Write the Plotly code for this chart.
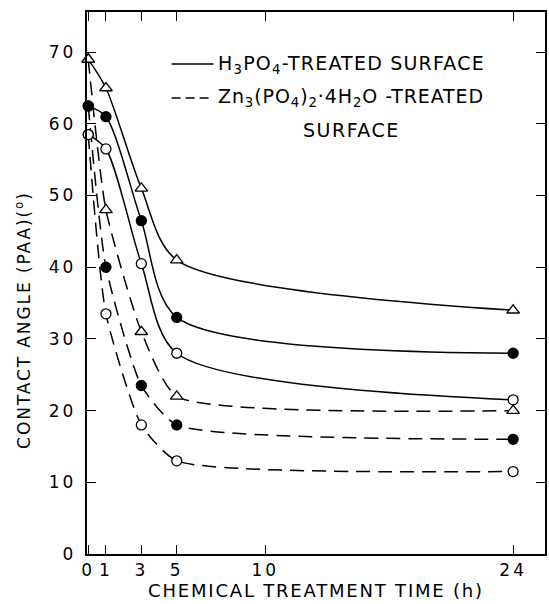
import plotly.graph_objects as go

hours = [0, 1, 3, 5, 24]

# H3PO4-treated (solid)
h3_tri = [69, 65, 51, 41, 34]
h3_fill = [62.5, 61, 46.5, 33, 28]
h3_open = [58.5, 56.5, 40.5, 28, 21.5]

# Zn3(PO4)2.4H2O-treated (dashed)
zn_tri = [69, 48, 31, 22, 20]
zn_fill = [62.5, 40, 23.5, 18, 16]
zn_open = [58.5, 33.5, 18, 13, 11.5]

x_ticks = [0, 1, 3, 5, 10, 24]
y_ticks = [0, 10, 20, 30, 40, 50, 60, 70]

FONT = "DejaVu Sans"
fig = go.Figure()


def sp(text, ls):
    return f'<span style="letter-spacing:{ls}px">{text}</span>'


def add(y, dash, sym, fill, smooth):
    fig.add_trace(go.Scatter(
        x=hours, y=y, mode="lines+markers",
        line=dict(color="black", width=1.5, dash=dash, shape="spline", smoothing=smooth),
        marker=dict(symbol=sym, size=11 if sym.startswith("tri") else 10,
                    color=fill, line=dict(color="black", width=1.3)),
        cliponaxis=False, showlegend=False))


add(h3_tri, "solid", "triangle-up", "white", 0.8)
add(h3_fill, "solid", "circle", "black", 0.8)
add(h3_open, "solid", "circle", "white", 0.8)
add(zn_tri, "14px,8px", "triangle-up", "white", 0.55)
add(zn_fill, "14px,8px", "circle", "black", 0.55)
add(zn_open, "14px,8px", "circle", "white", 0.55)

axis_common = dict(showline=True, linecolor="black", linewidth=1.5, mirror="ticks",
                   ticks="inside", ticklen=9, tickwidth=1.3, tickcolor="black",
                   showgrid=False, zeroline=False,
                   tickfont=dict(family=FONT, size=17, color="black"))

fig.update_xaxes(range=[-0.07, 25.8], tickvals=x_ticks,
                 ticktext=[sp(str(v), 3) for v in x_ticks],
                 title=dict(text=sp("CHEMICAL TREATMENT TIME (h)", 1.8), standoff=1,
                            font=dict(family=FONT, size=18, color="black")),
                 **axis_common)
fig.update_yaxes(range=[0, 75.6], tickvals=y_ticks,
                 ticktext=[sp(str(v), 3) + "&nbsp;" for v in y_ticks], **axis_common)

# y-axis title as annotation
fig.add_annotation(text=sp("CONTACT ANGLE (PAA)(<sup>o</sup>)", 1.9), xref="paper", yref="paper",
                   x=-0.14, y=(554 - 320) / 542, textangle=-90, showarrow=False,
                   xanchor="center", yanchor="middle",
                   font=dict(family=FONT, size=17, color="black"))


def px_x(p):
    return (p - 87) / (547 - 87)


def px_y(p):
    return (554 - p) / (554 - 12)


# legend
fig.add_shape(type="line", xref="paper", yref="paper", x0=px_x(172), x1=px_x(214),
              y0=px_y(64), y1=px_y(64), line=dict(color="black", width=1.3))
fig.add_shape(type="line", xref="paper", yref="paper", x0=px_x(172), x1=px_x(214),
              y0=px_y(98), y1=px_y(98), line=dict(color="black", width=1.3, dash="9px,5px"))
fig.add_annotation(text=sp("H<sub>3</sub>PO<sub>4</sub>-TREATED SURFACE", 1.2),
                   xref="paper", yref="paper",
                   x=px_x(217), y=px_y(64), xanchor="left", yanchor="middle", showarrow=False,
                   font=dict(family=FONT, size=19, color="black"))
fig.add_annotation(text=sp("Zn<sub>3</sub>(PO<sub>4</sub>)<sub>2</sub>·4H<sub>2</sub>O -TREATED", 0.9),
                   xref="paper", yref="paper",
                   x=px_x(217), y=px_y(98), xanchor="left", yanchor="middle", showarrow=False,
                   font=dict(family=FONT, size=19, color="black"))
fig.add_annotation(text=sp("SURFACE", 1.5), xref="paper", yref="paper",
                   x=px_x(353), y=px_y(130), xanchor="center", yanchor="middle", showarrow=False,
                   font=dict(family=FONT, size=19, color="black"))

fig.update_layout(width=549, height=604, margin=dict(l=87, r=2, t=12, b=50),
                  paper_bgcolor="white", plot_bgcolor="white",
                  font=dict(family=FONT, color="black"))

fig.write_html("out.html")
